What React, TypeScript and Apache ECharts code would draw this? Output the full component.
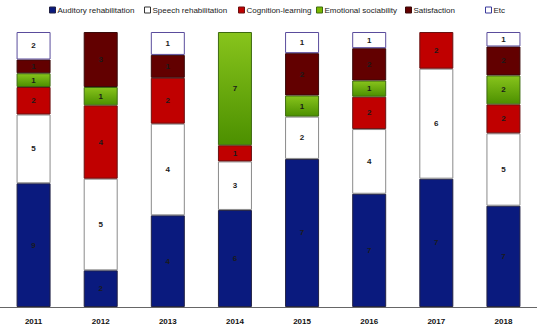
import React, { useEffect, useRef } from "react";
import * as echarts from "echarts";

const years = ["2011", "2012", "2013", "2014", "2015", "2016", "2017", "2018"];
const seriesNames = [
  "Auditory rehabilitation",
  "Speech rehabilitation",
  "Cognition-learning",
  "Emotional sociability",
  "Satisfaction",
  "Etc",
];
const auditory = [9, 2, 4, 6, 7, 7, 7, 7];
const speech = [5, 5, 4, 3, 2, 4, 6, 5];
const cognition = [2, 4, 2, 1, 0, 2, 2, 2];
const emotional = [1, 1, 0, 7, 1, 1, 0, 2];
const satisfaction = [1, 3, 1, 0, 2, 2, 0, 2];
const etc = [2, 0, 1, 0, 1, 1, 0, 1];

const FONT = "'Liberation Sans', Arial, sans-serif";

export default function App() {
  const ref = useRef<HTMLDivElement>(null);
  useEffect(() => {
    if (!ref.current) return;
    const chart = echarts.init(ref.current, undefined, { renderer: "svg" });
    const raw = [auditory, speech, cognition, emotional, satisfaction, etc];
    const totals = years.map((_, i) => raw.reduce((s, arr) => s + arr[i], 0));
    const greenGrad = new echarts.graphic.LinearGradient(0, 0, 0, 1, [
      { offset: 0, color: "#88c41c" },
      { offset: 1, color: "#4c9000" },
    ]);
    const styles = [
      { color: "#0a1a7e", borderColor: "#222244" },
      { color: "#ffffff", borderColor: "#8a8a8a" },
      { color: "#c00000", borderColor: "#6a1010" },
      { color: greenGrad, borderColor: "#3d6a10" },
      { color: "#620000", borderColor: "#3a0a0a" },
      { color: "#ffffff", borderColor: "#5a4c9c" },
    ];
    const legendIcons = [
      { color: "#0a1a7e", borderColor: "#222244" },
      { color: "#ffffff", borderColor: "#333333" },
      { color: "#c00000", borderColor: "#6a1010" },
      { color: "#7ab800", borderColor: "#3d6a10" },
      { color: "#620000", borderColor: "#3a0a0a" },
      { color: "#ffffff", borderColor: "#3a3a9c" },
    ];
    const legendLefts = [49, 144, 238, 316, 405, 485];
    const series = seriesNames.map((name, si) => ({
      name,
      type: "bar",
      stack: "total",
      barWidth: 34,
      data: raw[si].map((v, i) => ({
        value: v ? (v / totals[i]) * 100 : "-",
        raw: v,
      })),
      itemStyle: { ...styles[si], borderWidth: 1 },
      label: {
        show: true,
        position: "inside",
        fontFamily: FONT,
        fontSize: 8,
        fontWeight: "bold",
        color: "#1a1a1a",
        formatter: (p: any) => (p.data.raw ? String(p.data.raw) : ""),
      },
    }));
    const legends = seriesNames.map((name, i) => ({
      data: [{ name, itemStyle: { ...legendIcons[i], borderWidth: 1 } }],
      left: legendLefts[i],
      top: 6,
      icon: "rect",
      itemWidth: 6,
      itemHeight: 6,
      itemGap: 0,
      padding: 0,
      selectedMode: false,
      textStyle: { fontFamily: FONT, fontSize: 8, color: "#222", padding: [0, 0, 0, -3] },
    }));
    chart.setOption({
      animation: false,
      backgroundColor: "#ffffff",
      legend: legends,
      grid: { left: 0, top: 32, width: 541, bottom: 21, containLabel: false },
      xAxis: {
        type: "category",
        data: years,
        axisLine: { show: true, lineStyle: { color: "#666", width: 1 } },
        axisTick: { show: false },
        axisLabel: {
          margin: 10,
          fontFamily: FONT,
          fontSize: 8,
          fontWeight: "bold",
          color: "#111",
        },
      },
      yAxis: { type: "value", min: 0, max: 100, show: false, splitLine: { show: false } },
      series,
    });
    return () => chart.dispose();
  }, []);
  return (
    <div
      ref={ref}
      style={{ position: "fixed", left: 0, top: 0, width: 537, height: 328 }}
    />
  );
}
